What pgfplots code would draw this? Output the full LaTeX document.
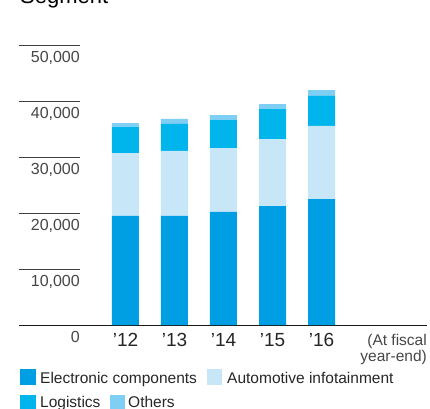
\documentclass[border=0pt]{standalone}
\usepackage{pgfplots}
\pgfplotsset{compat=1.18}
\usepackage{fontspec}
\setmainfont{Liberation Sans}
\definecolor{elecc}{RGB}{0,159,227}
\definecolor{autoc}{RGB}{199,231,249}
\definecolor{logic}{RGB}{0,180,236}
\definecolor{othc}{RGB}{127,206,243}
\definecolor{lbl}{RGB}{70,70,70}
\begin{document}
\begin{tikzpicture}
\useasboundingbox (0pt,0pt) rectangle (430pt,408pt);
\begin{axis}[
  at={(19pt,83pt)}, anchor=south west,
  scale only axis, width=408pt, height=280pt,
  xmin=-2.173, xmax=6.153, ymin=0, ymax=50000,
  ybar stacked, bar width=27pt,
  axis line style={draw=none},
  major tick length=0pt,
  scaled y ticks=false,
  xtick={0,1,2,3,4},
  xticklabels={’12,’13,’14,’15,’16},
  xticklabel style={anchor=base, yshift=-21pt, font=\fontsize{19}{19}\selectfont, text=black!85},
  ytick={0,10000,20000,30000,40000,50000},
  yticklabel style={anchor=north east, inner sep=0pt, xshift=61pt, yshift=-6pt, font=\fontsize{16}{16}\selectfont, text=lbl},
  /pgf/number format/.cd, 1000 sep={,}, assume math mode=true,
]
\addplot[fill=elecc, draw=none] coordinates {(0,19500) (1,19500) (2,20200) (3,21250) (4,22500)};
\addplot[fill=autoc, draw=none] coordinates {(0,11200) (1,11600) (2,11400) (3,11950) (4,13050)};
\addplot[fill=logic, draw=none] coordinates {(0,4650) (1,4800) (2,5000) (3,5350) (4,5350)};
\addplot[fill=othc, draw=none] coordinates {(0,700) (1,900) (2,900) (3,900) (4,1050)};
\foreach \v in {10000,20000,30000,40000,50000}{
  \edef\tmp{\noexpand\draw[black!75, line width=0.8pt] (axis cs:-2.173,\v) -- (axis cs:-0.9286,\v);}\tmp
}
\draw[black!90, line width=0.9pt] (axis cs:-2.173,0) -- (axis cs:6.153,0);
\end{axis}
% title (cropped)
\node[anchor=base west, inner sep=0pt, font=\fontsize{22}{22}\selectfont] at (20pt,404.5pt) {Segment};
% fiscal note
\node[anchor=base east, inner sep=0pt, font=\fontsize{15.5}{15.5}\selectfont, text=lbl] at (427pt,63pt) {(At fiscal};
\node[anchor=base east, inner sep=0pt, font=\fontsize{15.5}{15.5}\selectfont, text=lbl] at (427pt,47pt) {year-end)};
% legend
\fill[elecc] (20pt,23pt) rectangle (36pt,39pt);
\node[anchor=base west, inner sep=0pt, font=\fontsize{15.5}{15.5}\selectfont, text=black!85] at (40pt,25pt) {Electronic components};
\fill[autoc] (207pt,23pt) rectangle (222pt,39pt);
\node[anchor=base west, inner sep=0pt, font=\fontsize{15.5}{15.5}\selectfont, text=black!85] at (227pt,25pt) {Automotive infotainment};
\fill[logic] (20pt,-3pt) rectangle (36pt,13pt);
\node[anchor=base west, inner sep=0pt, font=\fontsize{15.5}{15.5}\selectfont, text=black!85] at (40pt,1pt) {Logistics};
\fill[othc] (110pt,-3pt) rectangle (125pt,13pt);
\node[anchor=base west, inner sep=0pt, font=\fontsize{15.5}{15.5}\selectfont, text=black!85] at (128pt,1pt) {Others};
\end{tikzpicture}
\end{document}
